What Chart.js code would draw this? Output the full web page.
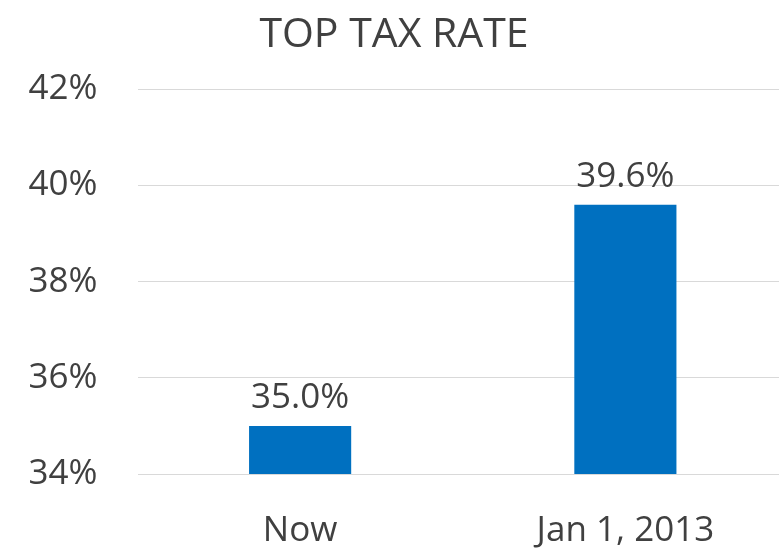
<!DOCTYPE html>
<html>
<head>
<meta charset="utf-8">
<script src="https://cdn.jsdelivr.net/npm/chart.js@4/dist/chart.umd.min.js"></script>
<style>
html,body{margin:0;padding:0;background:#fff;overflow:hidden;width:779px;height:551px;}
#wrap{width:816px;height:588px;position:relative;}
</style>
</head>
<body>
<div id="wrap"><canvas id="c" width="816" height="588"></canvas></div>
<script>
const categories = ["Now", "Jan 1, 2013"];
const topTaxRate = [35.0, 39.6];
const valueLabels = ["35.0%", "39.6%"];
const yMin = 34, yMax = 42, yStep = 2;

const FONT = "'Open Sans', sans-serif";
const TEXT = "#404040";

const labelPlugin = {
  id: 'valueLabels',
  afterDatasetsDraw(chart) {
    const ctx = chart.ctx;
    const meta = chart.getDatasetMeta(0);
    ctx.save();
    ctx.font = "35px " + FONT;
    ctx.fillStyle = TEXT;
    ctx.textAlign = 'center';
    ctx.textBaseline = 'alphabetic';
    meta.data.forEach((bar, i) => {
      ctx.fillText(valueLabels[i], bar.x, bar.y - 18);
    });
    ctx.restore();
  }
};

new Chart(document.getElementById('c'), {
  type: 'bar',
  data: {
    labels: categories,
    datasets: [{
      data: topTaxRate,
      backgroundColor: '#0070C0',
      borderWidth: 0,
      categoryPercentage: 1.0,
      barPercentage: 0.314
    }]
  },
  options: {
    responsive: false,
    animation: false,
    layout: { padding: { left: 0, right: 28, top: 11, bottom: 0 } },
    plugins: {
      legend: { display: false },
      tooltip: { enabled: false },
      title: {
        display: true,
        text: 'TOP TAX RATE',
        color: TEXT,
        font: { family: FONT, size: 41, weight: 'normal' },
        padding: { top: 0, bottom: 29 }
      }
    },
    scales: {
      y: {
        min: yMin, max: yMax,
        ticks: {
          stepSize: yStep,
          color: TEXT,
          padding: 40,
          font: { family: FONT, size: 35 },
          callback: v => v + '%'
        },
        grid: { color: '#d9d9d9', lineWidth: 1, drawTicks: false },
        border: { display: false },
        afterFit: s => { s.width = 137.5; }
      },
      x: {
        ticks: {
          color: TEXT,
          padding: 36,
          font: { family: FONT, size: 35 }
        },
        grid: { display: false, drawTicks: false },
        border: { display: false }
      }
    }
  },
  plugins: [labelPlugin]
});
</script>
</body>
</html>
